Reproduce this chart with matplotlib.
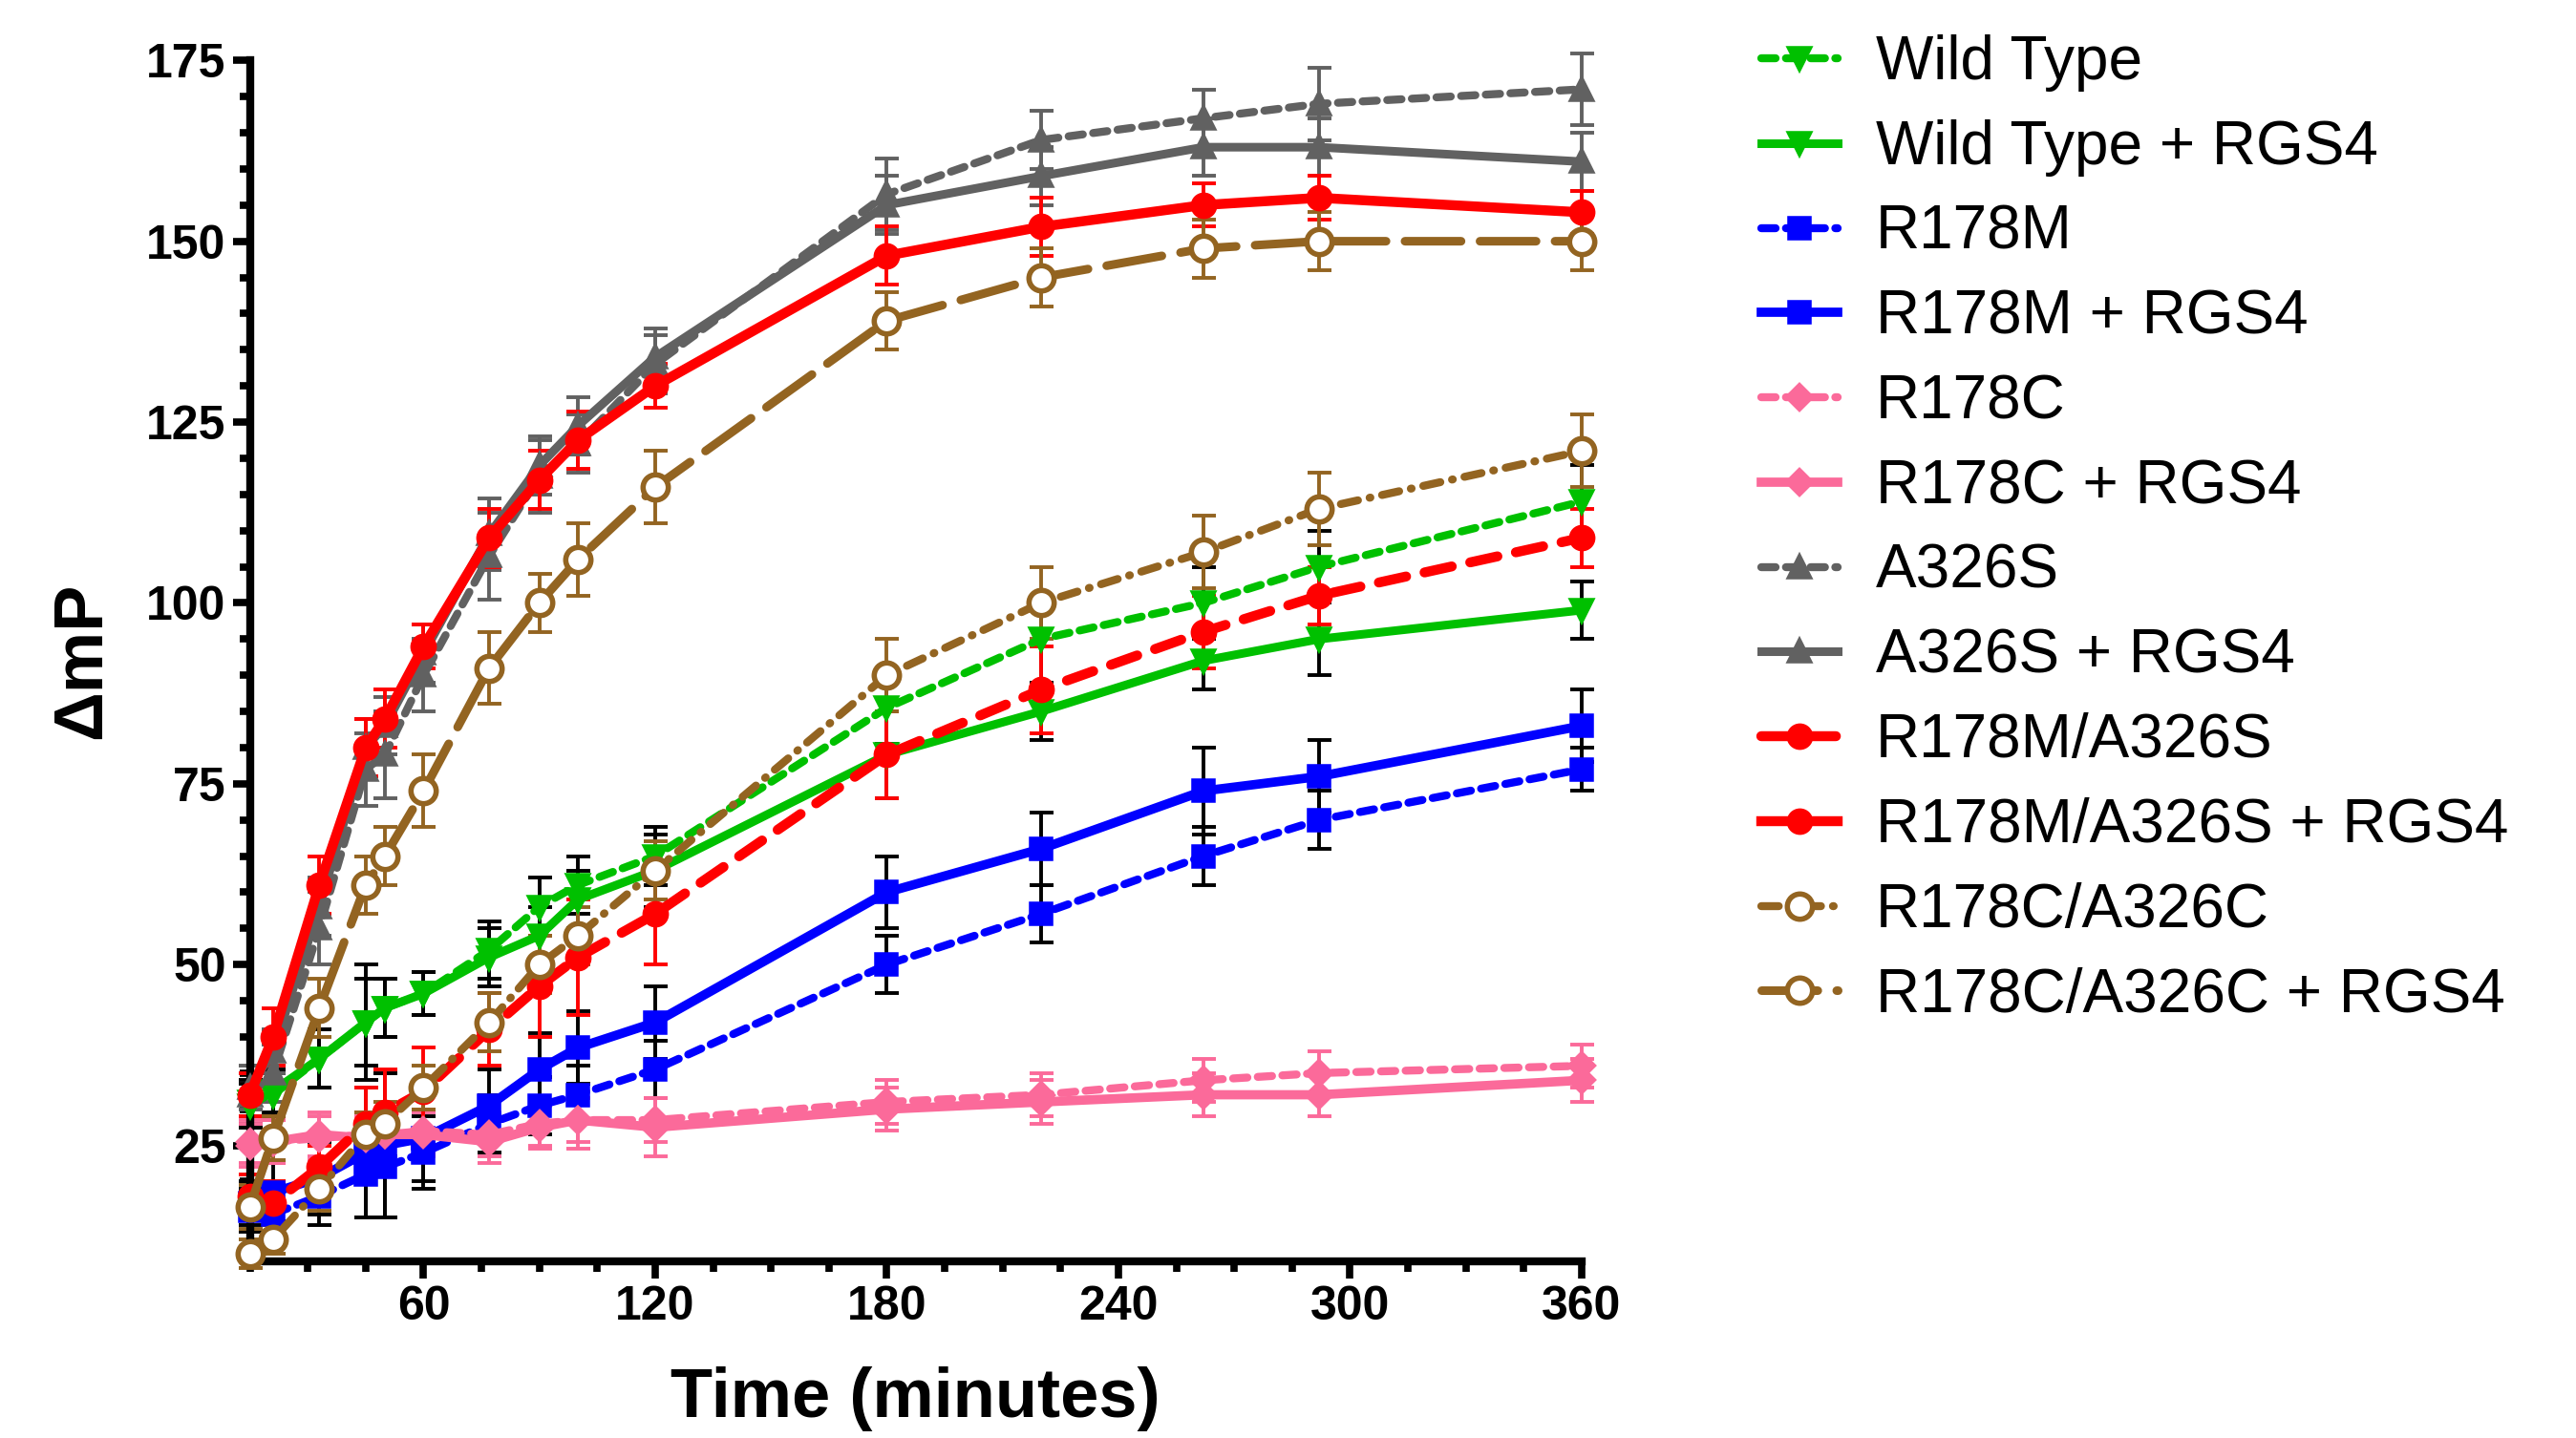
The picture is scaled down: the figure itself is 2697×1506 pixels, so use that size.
#!/usr/bin/env python3
"""Time course of delta mP for wild type and mutants, with and without RGS4."""

import matplotlib
matplotlib.use("Agg")
import matplotlib.pyplot as plt
from matplotlib.ticker import MultipleLocator

# time points (minutes)
times = [15, 21, 33, 45, 50, 60, 77, 90, 100, 120, 180, 220, 262, 292, 360]

labels = [
    "Wild Type", "Wild Type + RGS4",
    "R178M", "R178M + RGS4",
    "R178C", "R178C + RGS4",
    "A326S", "A326S + RGS4",
    "R178M/A326S", "R178M/A326S + RGS4",
    "R178C/A326C", "R178C/A326C + RGS4",
]

# mean delta mP per series
wt = [31, 32, 37, 42, 44, 46, 52, 58, 61, 65, 85.5, 95, 100, 105, 114]
wt_rgs = [30.5, 32.5, 37, 42, 44, 46, 51, 54, 59, 63, 79, 85, 92, 95, 99]
r178m = [16, 15.5, 18, 21, 22, 24, 28, 30.5, 32, 35.5, 50, 57, 65, 70, 77]
r178m_rgs = [17, 18.5, 20.5, 24, 25, 26, 30.5, 35.5, 38.5, 42, 60, 66, 74, 76, 83]
r178c = [25, 25.5, 26, 26.5, 26.5, 27, 26.5, 28, 28.5, 28.5, 31, 32, 34, 35, 36]
r178c_rgs = [25.5, 25.5, 26.5, 26, 26.5, 26.5, 25.5, 27.5, 28.5, 27.5, 30, 31, 32, 32, 34]
a326s = [32, 35, 55, 77, 79, 90, 106.5, 117.5, 122, 133, 156.5, 164, 167, 169, 171]
a326s_rgs = [33, 38, 58, 80, 83, 93, 109.5, 119, 124.5, 134, 155, 159, 163, 163, 161]
ms = [18, 17, 22, 28, 29.5, 32.5, 41, 47, 51, 57, 79, 88, 96, 101, 109]
ms_rgs = [32, 40, 61, 80, 84, 94, 109, 117, 122.5, 130, 148, 152, 155, 156, 154]
cc = [10, 12, 19, 26.5, 28, 33, 42, 50, 54, 63, 90, 100, 107, 113, 121]
cc_rgs = [16.5, 26, 44, 61, 65, 74, 91, 100, 106, 116, 139, 145, 149, 150, 150]

# error (half length of bar)
wt_err = [3, 3, 4, 6, 4, 3, 4, 4, 4, 4, 5, 6, 5, 5, 5]
wt_rgs_err = [3, 3, 4, 8, 4, 3, 4, 4, 4, 5, 6, 4, 4, 5, 4]
r178m_err = [3, 4, 4, 6, 7, 5, 4, 4, 4, 4, 4, 4, 4, 4, 3]
r178m_rgs_err = [3, 4, 5, 9, 10, 6, 5, 5, 5, 5, 5, 5, 6, 5, 5]
r178c_err = [3, 3, 3, 3, 3, 3, 3, 3, 3, 3, 3, 3, 3, 3, 3]
r178c_rgs_err = [3, 3, 3, 3, 3, 3, 3, 3, 4, 4, 3, 3, 3, 3, 3]
a326s_err = [3, 4, 5, 5, 6, 5, 6, 5, 4, 4, 5, 4, 4, 5, 5]
a326s_rgs_err = [3, 3, 4, 4, 4, 4, 5, 4, 4, 4, 4, 4, 4, 4, 4]
ms_err = [3, 3, 3, 5, 6, 6, 5, 7, 8, 7, 6, 6, 5, 4, 4]
ms_rgs_err = [3, 4, 4, 4, 4, 3, 4, 4, 4, 3, 4, 4, 3, 3, 3]
cc_err = [2, 2, 3, 3, 3, 3, 4, 4, 4, 4, 5, 5, 5, 5, 5]
cc_rgs_err = [3, 3, 4, 4, 4, 5, 5, 4, 5, 5, 4, 4, 4, 4, 4]

values = [wt, wt_rgs, r178m, r178m_rgs, r178c, r178c_rgs,
          a326s, a326s_rgs, ms, ms_rgs, cc, cc_rgs]
errors = [wt_err, wt_rgs_err, r178m_err, r178m_rgs_err, r178c_err, r178c_rgs_err,
          a326s_err, a326s_rgs_err, ms_err, ms_rgs_err, cc_err, cc_rgs_err]

GREEN = "#00c000"
BLUE = "#0000ff"
PINK = "#fb6a9a"
GRAY = "#616161"
RED = "#ff0000"
BROWN = "#936421"

# (colour, error colour, linestyle, marker, marker face, linewidth, marker size)
styles = [
    (GREEN, "black", (0, (1.8, 1.3)), "v", GREEN, 6, 14),
    (GREEN, "black", "-", "v", GREEN, 6.5, 14),
    (BLUE, "black", (0, (1.8, 1.3)), "s", BLUE, 6, 14),
    (BLUE, "black", "-", "s", BLUE, 7, 15),
    (PINK, PINK, (0, (1.8, 1.3)), "D", PINK, 6, 12),
    (PINK, PINK, "-", "D", PINK, 7, 12),
    (GRAY, GRAY, (0, (1.8, 1.3)), "^", GRAY, 6, 14),
    (GRAY, GRAY, "-", "^", GRAY, 6.5, 14),
    (RED, RED, (0, (2.8, 1.9)), "o", RED, 7.5, 16),
    (RED, RED, "-", "o", RED, 7.5, 16),
    (BROWN, BROWN, (0, (2.2, 1.5, 0.1, 1.5)), "o", "white", 6, 19),
    (BROWN, BROWN, (0, (6.5, 2.2)), "o", "white", 6.5, 19),
]

plt.rcParams["font.family"] = ["Liberation Sans", "DejaVu Sans"]

fig = plt.figure(figsize=(26.97, 15.06), dpi=100)
ax = fig.add_axes([0.097, 0.123, 0.517, 0.835])

handles = []
for lab, y, e, st in zip(labels, values, errors, styles):
    col, ecol, ls, mk, mfc, lw, msz = st
    ax.errorbar(times, y, yerr=e, fmt="none", ecolor=ecol, elinewidth=2.8,
                capsize=9, capthick=2.8, clip_on=False, zorder=2)
    h, = ax.plot(times, y, color=col, ls=ls, lw=lw, marker=mk, markersize=msz,
                 markerfacecolor=mfc, markeredgecolor=col, markeredgewidth=4,
                 dash_capstyle="round", clip_on=False, zorder=3, label=lab)
    handles.append(h)

ax.set_xlim(15, 360)
ax.set_ylim(9, 175)
ax.xaxis.set_minor_locator(MultipleLocator(15))
ax.yaxis.set_minor_locator(MultipleLocator(5))
ax.set_xticks([60, 120, 180, 240, 300, 360])
ax.set_yticks([25, 50, 75, 100, 125, 150, 175])

for s in ["top", "right"]:
    ax.spines[s].set_visible(False)
for s in ["left", "bottom"]:
    ax.spines[s].set_linewidth(6)

ax.tick_params(which="major", length=13, width=5.5, labelsize=36, pad=5)
ax.tick_params(which="minor", length=8, width=5.5)
for t in ax.get_xticklabels() + ax.get_yticklabels():
    t.set_fontweight("bold")

ax.set_xlabel("Time (minutes)", fontsize=52, fontweight="bold", labelpad=28)
ax.set_ylabel("\u0394mP", fontsize=52, fontweight="bold", labelpad=24)

fig.legend(handles=handles, loc="upper left", bbox_to_anchor=(0.672, 0.997),
           frameon=False, fontsize=46, handlelength=1.25, handletextpad=0.62,
           labelspacing=0.45, borderpad=0)

fig.savefig("out.png", dpi=100)
